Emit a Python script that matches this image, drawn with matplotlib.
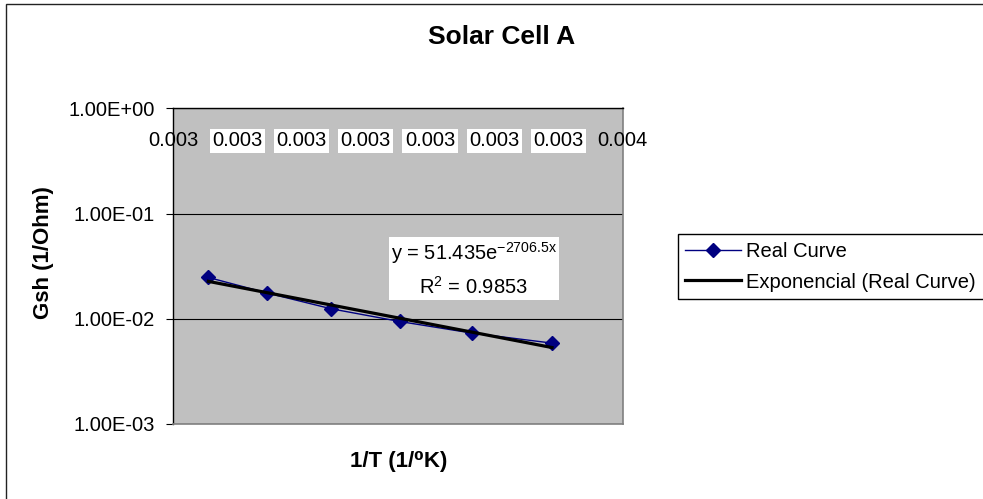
import numpy as np
import matplotlib
matplotlib.use("Agg")
import matplotlib.pyplot as plt
from matplotlib.lines import Line2D
from matplotlib.patches import Rectangle
from matplotlib.ticker import FixedLocator, NullLocator

plt.rcParams['font.family'] = ['Liberation Sans', 'DejaVu Sans']
plt.rcParams['mathtext.fontset'] = 'custom'
plt.rcParams['mathtext.rm'] = 'Liberation Sans'
plt.rcParams['mathtext.it'] = 'Liberation Sans:italic'

# Measured data: inverse temperature vs shunt conductance
inv_T = [0.002855, 0.002946, 0.003046, 0.003153, 0.003266, 0.003390]
gsh = [0.0247, 0.0176, 0.01245, 0.00942, 0.00730, 0.00587]

# Exponential fit y = a * exp(b x)
fit_a = 51.435
fit_b = -2706.5
fit_r2 = 0.9853

x_ticks = [0.0028, 0.0029, 0.0030, 0.0031, 0.0032, 0.0033, 0.0034, 0.0035]
x_tick_labels = ["0.003", "0.003", "0.003", "0.003", "0.003", "0.003", "0.003", "0.004"]
y_ticks = [1e-3, 1e-2, 1e-1, 1e0]
y_tick_labels = ["1.00E-03", "1.00E-02", "1.00E-01", "1.00E+00"]

W, H = 983, 499
fig = plt.figure(figsize=(W / 100, H / 100), dpi=100)
fig.patch.set_facecolor('white')

# chart-area frame (runs off the right and bottom edges)
fig.add_artist(Rectangle((6 / W, -0.2), 1.3, 1.2 - 4 / H, transform=fig.transFigure,
                         fill=False, edgecolor='#222222', linewidth=1.0))

L, R, T, B = 173, 622.7, 108.3, 424
ax = fig.add_axes([L / W, 1 - B / H, (R - L) / W, (B - T) / H])
ax.set_facecolor('#C0C0C0')
ax.set_yscale('log')
ax.set_ylim(1e-3, 1e0)
ax.set_xlim(x_ticks[0], x_ticks[-1])

ax.yaxis.set_major_locator(FixedLocator(y_ticks))
ax.yaxis.set_minor_locator(NullLocator())
ax.set_yticklabels(y_tick_labels)
ax.tick_params(axis='y', which='major', direction='out', length=5, width=0.8,
               pad=8, labelsize=14.5, color='black')
ax.set_xticks([])
ax.grid(axis='y', which='major', color='black', linewidth=0.8)
ax.set_axisbelow(True)

for side in ('left', 'top'):
    ax.spines[side].set_color('black')
    ax.spines[side].set_linewidth(1.0)
for side in ('right', 'bottom'):
    ax.spines[side].set_color('#808080')
    ax.spines[side].set_linewidth(1.2)

# category-style tick labels sitting just below the top axis line
xtr = ax.get_xaxis_transform()
for i, (xv, lab) in enumerate(zip(x_ticks, x_tick_labels)):
    inner = 0 < i < len(x_ticks) - 1
    ax.text(xv, 0.897, lab, transform=xtr, ha='center', va='center',
            fontsize=14.5, clip_on=False, zorder=5,
            bbox=dict(boxstyle='square,pad=0.12', facecolor='white', edgecolor='none')
            if inner else None)

# data series
ax.plot(inv_T, gsh, color='#000080', linewidth=1.0, marker='D', markersize=7,
        markerfacecolor='#000080', markeredgecolor='#000080', zorder=3)

# exponential trendline
xf = np.linspace(min(inv_T), max(inv_T), 50)
ax.plot(xf, fit_a * np.exp(fit_b * xf), color='black', linewidth=2.3, zorder=4)

# fit equation box
ax.text(0.669, 0.49,
        "y = %.3fe$^{\\mathregular{%.1fx}}$\nR$^{\\mathregular{2}}$ = %.4f" % (fit_a, fit_b, fit_r2),
        transform=ax.transAxes, ha='center', va='center', multialignment='center',
        fontsize=14.5, linespacing=1.55, zorder=6,
        bbox=dict(boxstyle='square,pad=0.08', facecolor='white', edgecolor='none'))

# titles
fig.text(501.5 / W, 1 - 37 / H, "Solar Cell A", ha='center', va='center',
         fontsize=19, fontweight='bold')
fig.text(43 / W, 1 - 253 / H, "Gsh (1/Ohm)", ha='center', va='center',
         rotation=90, fontsize=16, fontweight='bold')
fig.text(398.5 / W, 1 - 461.7 / H, "1/T (1/⁰K)", ha='center', va='center',
         fontsize=16, fontweight='bold')

# legend
fig.add_artist(Rectangle((678 / W, 1 - 299 / H), 1.0, 65 / H, transform=fig.transFigure,
                         facecolor='white', edgecolor='black', linewidth=1.0))
handles = [
    Line2D([], [], color='#000080', linewidth=1.0, marker='D', markersize=7,
           markerfacecolor='#000080', markeredgecolor='#000080'),
    Line2D([], [], color='black', linewidth=2.3),
]
leg = fig.legend(handles, ["Real Curve", "Exponencial (Real Curve)"],
                 loc='center left', bbox_to_anchor=(685 / W, 1 - 267 / H),
                 frameon=False, fontsize=14.5, borderpad=0, borderaxespad=0,
                 handlelength=2.8, handletextpad=0.25, labelspacing=0.55)

fig.savefig("out.png", dpi=100, facecolor='white')
